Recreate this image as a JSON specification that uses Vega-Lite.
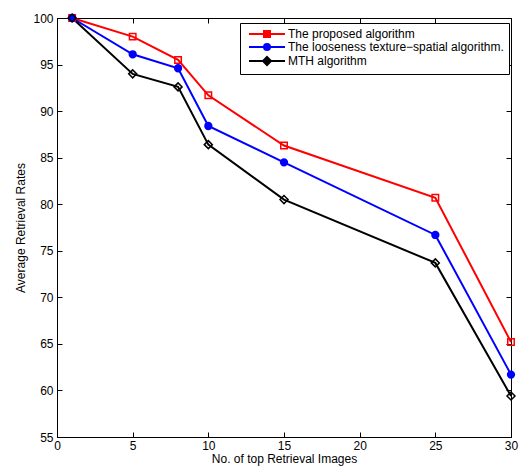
{
  "$schema": "https://vega.github.io/schema/vega-lite/v6.json",
  "width": 454,
  "height": 419,
  "autosize": {"type": "none"},
  "padding": {"left": 57, "top": 18, "right": 8, "bottom": 29},
  "config": {
    "font": "Liberation Sans",
    "view": {"stroke": "black", "strokeWidth": 1},
    "axis": {
      "domainColor": "black",
      "tickColor": "black",
      "labelColor": "black",
      "titleColor": "black",
      "labelFontSize": 12,
      "titleFontSize": 12,
      "titleFontWeight": "normal",
      "grid": false,
      "tickSize": -5,
      "labelFlush": false,
      "labelOverlap": false
    }
  },
  "data": {
    "values": [
      {"x": 1, "rate": 100, "series": "The proposed algorithm"},
      {"x": 5, "rate": 98.0, "series": "The proposed algorithm"},
      {"x": 8, "rate": 95.5, "series": "The proposed algorithm"},
      {"x": 10, "rate": 91.7, "series": "The proposed algorithm"},
      {"x": 15, "rate": 86.3, "series": "The proposed algorithm"},
      {"x": 25, "rate": 80.7, "series": "The proposed algorithm"},
      {"x": 30, "rate": 65.2, "series": "The proposed algorithm"},
      {"x": 1, "rate": 100, "series": "The looseness texture−spatial algorithm."},
      {"x": 5, "rate": 96.1, "series": "The looseness texture−spatial algorithm."},
      {"x": 8, "rate": 94.6, "series": "The looseness texture−spatial algorithm."},
      {"x": 10, "rate": 88.4, "series": "The looseness texture−spatial algorithm."},
      {"x": 15, "rate": 84.5, "series": "The looseness texture−spatial algorithm."},
      {"x": 25, "rate": 76.7, "series": "The looseness texture−spatial algorithm."},
      {"x": 30, "rate": 61.7, "series": "The looseness texture−spatial algorithm."},
      {"x": 1, "rate": 100, "series": "MTH algorithm"},
      {"x": 5, "rate": 94.0, "series": "MTH algorithm"},
      {"x": 8, "rate": 92.6, "series": "MTH algorithm"},
      {"x": 10, "rate": 86.4, "series": "MTH algorithm"},
      {"x": 15, "rate": 80.5, "series": "MTH algorithm"},
      {"x": 25, "rate": 73.7, "series": "MTH algorithm"},
      {"x": 30, "rate": 59.4, "series": "MTH algorithm"}
    ]
  },
  "layer": [
    {
      "mark": {"type": "line", "strokeWidth": 2},
      "encoding": {
        "x": {"field": "x", "type": "quantitative", "scale": {"domain": [0, 30], "nice": false},
              "axis": {"orient": "top", "labels": false, "title": null, "values": [0, 5, 10, 15, 20, 25, 30]}},
        "y": {"field": "rate", "type": "quantitative", "scale": {"domain": [55, 100], "nice": false, "zero": false},
              "axis": {"orient": "right", "labels": false, "title": null, "values": [55, 60, 65, 70, 75, 80, 85, 90, 95, 100]}},
        "stroke": {"field": "series", "type": "nominal",
                   "scale": {"domain": ["The proposed algorithm", "The looseness texture−spatial algorithm.", "MTH algorithm"], "range": ["#ff0000", "#0000ff", "#000000"]}}
      }
    },
    {
      "transform": [{"filter": "datum.series === 'The proposed algorithm'"}],
      "mark": {"type": "point", "shape": "square", "size": 42, "filled": false, "opacity": 1, "strokeWidth": 1.5},
      "encoding": {
        "x": {"field": "x", "type": "quantitative", "scale": {"domain": [0, 30], "nice": false},
              "axis": {"orient": "bottom", "title": "No. of top Retrieval Images", "values": [0, 5, 10, 15, 20, 25, 30], "labelPadding": 8, "titlePadding": 2}},
        "y": {"field": "rate", "type": "quantitative", "scale": {"domain": [55, 100], "nice": false, "zero": false},
              "axis": {"orient": "left", "title": "Average Retrieval Rates", "values": [55, 60, 65, 70, 75, 80, 85, 90, 95, 100], "labelPadding": 9, "titlePadding": 5}},
        "stroke": {"field": "series", "type": "nominal",
                   "scale": {"domain": ["The proposed algorithm", "The looseness texture−spatial algorithm.", "MTH algorithm"], "range": ["#ff0000", "#0000ff", "#000000"]},
                   "legend": {
                     "title": null,
                     "orient": "none",
                     "legendX": 183,
                     "legendY": 5,
                     "padding": 5,
                     "strokeColor": "black",
                     "fillColor": "white",
                     "labelFontSize": 12,
                     "labelColor": "black",
                     "labelLimit": 400,
                     "symbolSize": 36,
                     "symbolOffset": 16,
                     "labelOffset": 15,
                     "rowPadding": -1,
                     "symbolStrokeWidth": 2,
                     "symbolOpacity": 1,
                     "encoding": {
                       "symbols": {
                         "shape": {"value": {"expr": "datum.value === 'The proposed algorithm' ? 'M-6,0H-1M1,0H6M-1,-1H1V1H-1Z' : (datum.value === 'MTH algorithm' ? 'M-6,0H-1.33M1.33,0H6M0,-1.33L1.33,0L0,1.33L-1.33,0Z' : 'M-6,0H6M1,0A1,1 0 1,1 -1,0A1,1 0 1,1 1,0Z')"}},
                         "fill": {
                           "condition": {"test": "datum.value === 'The looseness texture−spatial algorithm.'", "value": "#0000ff"},
                           "value": "#ffffff"
                         },
                         "size": {"value": 36},
                         "strokeWidth": {"value": 2}
                       }
                     }
                   }}
      }
    },
    {
      "transform": [{"filter": "datum.series === 'The looseness texture−spatial algorithm.'"}],
      "mark": {"type": "point", "shape": "circle", "size": 40, "filled": true, "opacity": 1},
      "encoding": {
        "x": {"field": "x", "type": "quantitative", "axis": null},
        "y": {"field": "rate", "type": "quantitative", "axis": null},
        "stroke": {"field": "series", "type": "nominal"},
        "fill": {"field": "series", "type": "nominal", "scale": {"domain": ["The proposed algorithm", "The looseness texture−spatial algorithm.", "MTH algorithm"], "range": ["#ff0000", "#0000ff", "#000000"]}, "legend": null}
      }
    },
    {
      "transform": [{"filter": "datum.series === 'MTH algorithm'"}],
      "mark": {"type": "point", "shape": "diamond", "size": 64, "filled": false, "opacity": 1, "strokeWidth": 1.5},
      "encoding": {
        "x": {"field": "x", "type": "quantitative", "axis": null},
        "y": {"field": "rate", "type": "quantitative", "axis": null},
        "stroke": {"field": "series", "type": "nominal"}
      }
    }
  ],
  "resolve": {"axis": {"x": "independent", "y": "independent"}}
}
